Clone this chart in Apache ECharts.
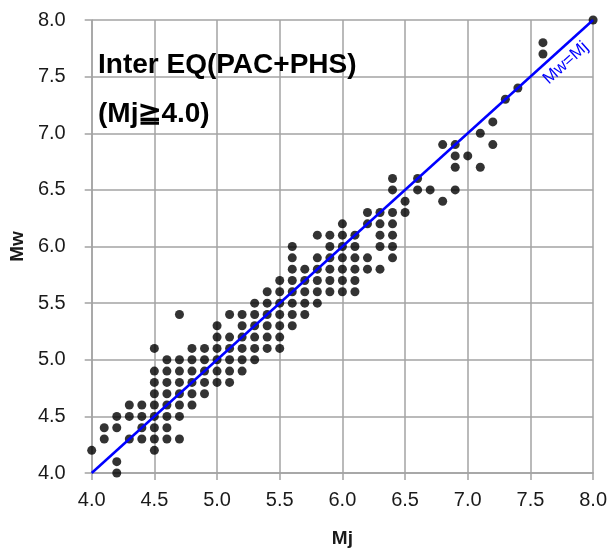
<!DOCTYPE html>
<html>
<head>
<meta charset="utf-8">
<script src="https://cdn.jsdelivr.net/npm/echarts@6/dist/echarts.min.js"></script>
<style>
  html, body { margin: 0; padding: 0; background: #fff; }
  #chart { width: 610px; height: 553px; }
</style>
</head>
<body>
<div id="chart"></div>
<script>
// Mj columns and the Mw values observed at each Mj
const mjColumns = [4.0, 4.1, 4.2, 4.3, 4.4, 4.5, 4.6, 4.7, 4.8, 4.9,
                   5.0, 5.1, 5.2, 5.3, 5.4, 5.5, 5.6, 5.7, 5.8, 5.9,
                   6.0, 6.1, 6.2, 6.3, 6.4, 6.5, 6.6, 6.7, 6.8, 6.9,
                   7.0, 7.1, 7.2, 7.3, 7.4, 7.6, 8.0];
const mwColumns = [
  [4.2],
  [4.4, 4.3],
  [4.5, 4.4, 4.1, 4.0],
  [4.6, 4.5, 4.3],
  [4.6, 4.5, 4.4, 4.3],
  [5.1, 4.9, 4.8, 4.7, 4.6, 4.5, 4.4, 4.3, 4.2],
  [5.0, 4.9, 4.8, 4.7, 4.6, 4.5, 4.4, 4.3],
  [5.4, 5.0, 4.9, 4.8, 4.7, 4.6, 4.5, 4.3],
  [5.1, 5.0, 4.9, 4.8, 4.7, 4.6],
  [5.1, 5.0, 4.9, 4.8, 4.7],
  [5.3, 5.2, 5.1, 5.0, 4.9, 4.8],
  [5.4, 5.2, 5.1, 5.0, 4.9, 4.8],
  [5.4, 5.3, 5.2, 5.1, 5.0, 4.9],
  [5.5, 5.4, 5.3, 5.2, 5.1, 5.0],
  [5.6, 5.5, 5.4, 5.3, 5.2, 5.1],
  [5.7, 5.6, 5.5, 5.4, 5.3, 5.2, 5.1],
  [6.0, 5.9, 5.8, 5.7, 5.6, 5.5, 5.4, 5.3],
  [5.8, 5.7, 5.6, 5.5, 5.4],
  [6.1, 5.9, 5.8, 5.7, 5.6, 5.5],
  [6.1, 6.0, 5.9, 5.8, 5.7, 5.6],
  [6.2, 6.1, 6.0, 5.9, 5.8, 5.7, 5.6],
  [6.1, 6.0, 5.9, 5.8, 5.7, 5.6],
  [6.3, 6.2, 5.9, 5.8],
  [6.3, 6.2, 6.1, 6.0, 5.8],
  [6.6, 6.5, 6.3, 6.2, 6.1, 6.0, 5.9],
  [6.4, 6.3],
  [6.6, 6.5],
  [6.5],
  [6.9, 6.4],
  [6.9, 6.8, 6.7, 6.5],
  [6.8],
  [7.0, 6.7],
  [7.1, 6.9],
  [7.3],
  [7.4],
  [7.8, 7.7],
  [8.0]
];
// Mw = Mj reference line end points
const identityLine = [4.0, 8.0];
const axisTicks = [4.0, 4.5, 5.0, 5.5, 6.0, 6.5, 7.0, 7.5, 8.0];

const points = [];
mjColumns.forEach((mj, i) => mwColumns[i].forEach(mw => points.push([mj, mw])));

const gridColor = '#a3a3a3';
const sansFamily = "'Liberation Sans', Arial, sans-serif";
const labelFont = { fontFamily: sansFamily, fontSize: 20, color: '#1a1a1a' };

const chart = echarts.init(document.getElementById('chart'), null, { renderer: 'canvas' });
chart.setOption({
  animation: false,
  backgroundColor: '#ffffff',
  title: {
    text: 'Inter EQ(PAC+PHS)\n(Mj≧4.0)',
    left: 93,
    top: 36,
    textStyle: {
      fontFamily: sansFamily,
      fontWeight: 'bold',
      fontSize: 28,
      lineHeight: 49,
      color: '#000'
    }
  },
  grid: { left: 88, right: 12, top: 20, bottom: 80, containLabel: false },
  xAxis: {
    type: 'value',
    min: axisTicks[0], max: axisTicks[axisTicks.length - 1], interval: 0.5,
    name: 'Mj', nameLocation: 'middle', nameGap: 56,
    nameTextStyle: { fontFamily: sansFamily, fontWeight: 'bold', fontSize: 19, color: '#1a1a1a' },
    axisLine: { show: true, lineStyle: { color: gridColor, width: 1.5 } },
    axisTick: { show: true, length: 7, lineStyle: { color: gridColor, width: 1.5 } },
    axisLabel: Object.assign({ margin: 17, formatter: v => v.toFixed(1) }, labelFont),
    splitLine: { show: true, lineStyle: { color: gridColor, width: 1.5 } }
  },
  yAxis: {
    type: 'value',
    min: axisTicks[0], max: axisTicks[axisTicks.length - 1], interval: 0.5,
    name: 'Mw', nameLocation: 'middle', nameGap: 64, nameRotate: 90,
    nameTextStyle: { fontFamily: sansFamily, fontWeight: 'bold', fontSize: 19, color: '#1a1a1a' },
    axisLine: { show: true, lineStyle: { color: gridColor, width: 1.5 } },
    axisTick: { show: true, length: 7, lineStyle: { color: gridColor, width: 1.5 } },
    axisLabel: Object.assign({ margin: 26, formatter: v => v.toFixed(1) }, labelFont),
    splitLine: { show: true, lineStyle: { color: gridColor, width: 1.5 } }
  },
  series: [
    {
      type: 'scatter',
      data: points,
      symbol: 'circle',
      symbolSize: 9,
      clip: false,
      itemStyle: { color: '#000' },
      z: 2,
      markLine: {
        silent: true,
        z: 5,
        symbol: ['none', 'none'],
        lineStyle: { color: '#0000ff', width: 2.5, type: 'solid' },
        label: {
          show: true,
          formatter: 'Mw=Mj',
          position: 'insideEndBottom',
          distance: [22, 5],
          color: '#0000ff',
          fontFamily: sansFamily,
          fontSize: 17
        },
        data: [[{ coord: [identityLine[0], identityLine[0]] }, { coord: [identityLine[1], identityLine[1]] }]]
      }
    }
  ]
});
</script>
</body>
</html>
